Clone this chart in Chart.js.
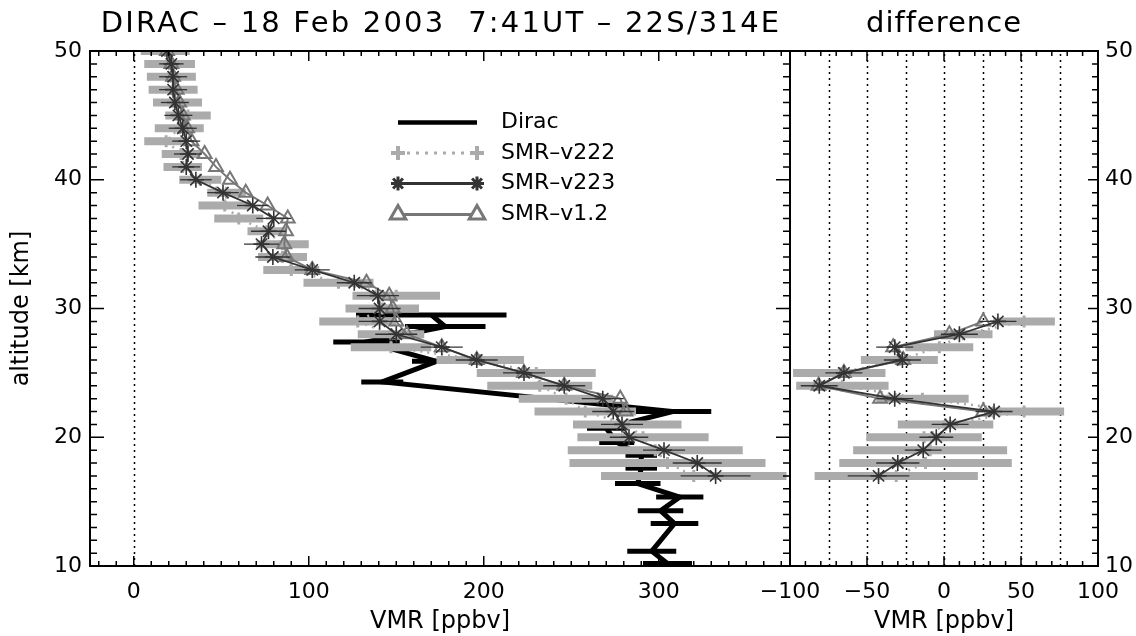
<!DOCTYPE html>
<html>
<head>
<meta charset="utf-8">
<script src="https://cdn.jsdelivr.net/npm/chart.js@4.4.1/dist/chart.umd.min.js"></script>
<style>
html, body { margin: 0; padding: 0; background: #fff; }
#wrap { position: relative; width: 1136px; height: 636px; overflow: hidden; }
canvas { position: absolute; top: 0; }
#profile { left: 0; }
#diff { left: 740px; }
</style>
</head>
<body>
<div id="wrap">
  <canvas id="profile" width="800" height="636"></canvas>
  <canvas id="diff" width="396" height="636"></canvas>
</div>
<script>
// altitude grid of the SMR retrievals [km]
const altSMR = [50, 49, 48, 47, 46, 45, 44, 43, 42, 41, 40, 39, 38, 37, 36, 35, 34, 33, 32, 31, 30, 29, 28, 27, 26, 25, 24, 23, 22, 21, 20, 19, 18, 17];
const v223 = [19, 21.5, 22.5, 22.5, 23.5, 25.5, 28, 30, 31, 30, 35.5, 51, 68, 80, 77, 73, 79.5, 102, 126, 139.5, 140.5, 140.5, 150, 176, 196, 223, 246, 268, 274, 279, 283, 303, 322, 332.5];
const v223Err = [8, 7, 8, 8, 8, 8, 8, 8, 8, 8, 9, 9, 9, 10, 10, 10, 10, 10, 10, 12, 12, 12, 12, 12, 12, 12, 12, 12, 12, 12, 11, 12, 14, 20];
const v222 = [18, 20.5, 21.5, 22.5, 25, 31, 26, 18.5, 27, 28, 38, 53, 52, 60, 76, 85, 85, 90, 117, 150, 142, 128, 147, 147, 198, 230, 232, 247, 258, 282, 291, 298, 305, 320];
const v222Err = [14, 14.5, 14, 14, 14, 13, 14, 12.5, 11, 11, 12, 11, 15, 14, 11, 15, 14, 16, 20, 25, 21, 22, 19, 23, 25, 34, 30, 27, 29, 31, 37.5, 50, 56, 53];
const altV12 = [50, 49, 48, 47, 46, 45, 44, 43, 42, 41, 40, 39, 38, 37, 36, 35, 34, 33, 32, 31, 30, 29, 28, 27, 26, 25, 24, 23, 22];
const v12 = [19, 21.5, 22.5, 24.5, 26, 28, 30.5, 33, 40.5, 47, 55, 64, 76.5, 88, 87, 86, 87.5, 102, 133, 146, 148, 150, 156, 176, 196, 223, 246, 278, 281];

// DIRAC balloon profile
const altDirac = [29.5, 28.6, 27.4, 25.9, 24.3, 22.0, 20.7, 19.6, 18.6, 17.6, 16.4, 15.35, 14.3, 13.3, 11.15, 10.2];
const dirac = [170, 178, 133, 173, 142, 308, 270, 276, 290, 290, 288, 312, 301, 309, 296, 305];
const diracErr = [43, 23, 19, 14, 12, 22, 11, 10, 9, 9, 13, 13.5, 13, 13.6, 14, 14];

// differences DIRAC - SMR
const altDiff = [29, 28, 27, 26, 25, 24, 23, 22, 21, 20, 19, 18, 17];
const d223 = [35, 10, -32, -27, -65, -81, -32, 32.5, 4, -5, -13.5, -30, -42.5];
const d223Err = [12, 12, 12, 12, 12, 12, 12, 12, 12, 11, 12, 14, 20];
const d222 = [52, 12.5, -3, -29, -68, -66, -14, 52, 1, -13, -9, -12, -31];
const d222Err = [20, 19, 22, 25, 30, 30, 30, 26, 31, 37.5, 50, 56, 53];
const altDiff12 = [29, 28, 27, 26, 25, 24, 23, 22];
const d12 = [25.5, 3.5, -33, -26.5, -65, -81.5, -41.5, 25.5];

// tick labels
const altTicks = [10, 20, 30, 40, 50];
const vmrTicks = [0, 100, 200, 300];
const diffTicks = [-100, -50, 0, 50, 100];
const diffGuides = [-75, -50, -25, 0, 25, 50, 75];

const FONT = "'DejaVu Sans', sans-serif";
const DARK = '#333333', MID = '#777777', LIGHT = '#ababab';

Chart.defaults.font.family = FONT;
Chart.defaults.font.size = 22;
Chart.defaults.color = '#000';
Chart.defaults.animation = false;

const pts = (xs, ys) => xs.map((v, i) => ({x: v, y: ys[i]}));
const minus = v => String(v).replace('-', '\u2212');

function smrSets(x223, y223, e223, x222, y222, e222, x12, y12) {
    return [
        {label: 'SMR-v223', data: pts(x223, y223), errors: e223, errColor: DARK, errWidth: 1.3,
         showLine: true, borderColor: DARK, borderWidth: 1.8,
         pointStyle: 'star', pointRadius: 8, pointBorderWidth: 1.6, pointBorderColor: DARK, pointBackgroundColor: DARK},
        {label: 'SMR-v1.2', data: pts(x12, y12),
         showLine: true, borderColor: MID, borderWidth: 2,
         pointStyle: 'triangle', pointRadius: 8, pointBorderWidth: 2, pointBorderColor: MID, pointBackgroundColor: 'rgba(0,0,0,0)'},
        {label: 'SMR-v222', data: pts(x222, y222), errors: e222, errColor: LIGHT, errWidth: 8,
         showLine: true, borderColor: LIGHT, borderWidth: 2.5, borderDash: [2, 5],
         pointStyle: 'cross', pointRadius: 6, pointBorderWidth: 3, pointBorderColor: LIGHT}
    ];
}

const errorBars = {
    id: 'errorBars',
    beforeDatasetDraw(chart, args) {
        const ds = chart.data.datasets[args.index];
        if (!ds.errors) return;
        const {ctx, chartArea: a, scales: {x, y}} = chart;
        ctx.save();
        ctx.beginPath();
        ctx.rect(a.left, a.top, a.right - a.left, a.bottom - a.top);
        ctx.clip();
        ctx.strokeStyle = ds.errColor;
        ctx.lineWidth = ds.errWidth;
        ds.data.forEach((p, i) => {
            const py = y.getPixelForValue(p.y);
            ctx.beginPath();
            ctx.moveTo(x.getPixelForValue(p.x - ds.errors[i]), py);
            ctx.lineTo(x.getPixelForValue(p.x + ds.errors[i]), py);
            ctx.stroke();
        });
        ctx.restore();
    }
};

// box, inward ticks, dotted guides and panel title
function frame(cfg) {
    return {
        id: 'frame',
        beforeDatasetsDraw(chart) {
            const {ctx, chartArea: a, scales: {x}} = chart;
            ctx.save();
            ctx.strokeStyle = '#000';
            ctx.lineWidth = 1.5;
            ctx.setLineDash([2, 4]);
            cfg.guides.forEach(v => {
                const px = Math.round(x.getPixelForValue(v)) + 0.5;
                ctx.beginPath();
                ctx.moveTo(px, a.bottom);
                ctx.lineTo(px, a.top);
                ctx.stroke();
            });
            ctx.restore();
        },
        afterDatasetsDraw(chart) {
            const {ctx, chartArea: a, scales: {x, y}} = chart;
            ctx.save();
            ctx.strokeStyle = '#000';
            ctx.lineWidth = 1.5;
            ctx.beginPath();
            for (let v = Math.ceil(x.min / 10) * 10; v <= x.max; v += 10) {
                const len = v % cfg.xMajor === 0 ? cfg.xLen[0] : cfg.xLen[1];
                const px = x.getPixelForValue(v);
                ctx.moveTo(px, a.bottom); ctx.lineTo(px, a.bottom - len);
                ctx.moveTo(px, a.top); ctx.lineTo(px, a.top + len);
            }
            for (let v = y.min; v <= y.max; v += 1) {
                const major = v % 10 === 0;
                const py = y.getPixelForValue(v);
                const l = major ? cfg.yLeft[0] : cfg.yLeft[1];
                const r = major ? cfg.yRight[0] : cfg.yRight[1];
                if (l) { ctx.moveTo(a.left, py); ctx.lineTo(a.left + l, py); }
                if (r) { ctx.moveTo(a.right, py); ctx.lineTo(a.right - r, py); }
            }
            ctx.stroke();
            ctx.lineWidth = 2;
            ctx.strokeRect(a.left, a.top, a.right - a.left, a.bottom - a.top);

            ctx.fillStyle = '#000';
            ctx.font = '29px ' + FONT;
            ctx.textAlign = 'center';
            ctx.textBaseline = 'middle';
            if ('letterSpacing' in ctx) ctx.letterSpacing = cfg.spacing;
            ctx.fillText(cfg.title, cfg.titleX || (a.left + a.right) / 2, 24);
            ctx.restore();
        }
    };
}

const legend = {
    id: 'legendBox',
    afterDraw(chart) {
        const ctx = chart.ctx;
        const x0 = 398, x1 = 477, tx = 501;
        const rows = [
            {text: 'Dirac', y: 122.5, color: '#000', width: 4.5, dash: []},
            {text: 'SMR\u2013v222', y: 153, color: LIGHT, width: 3, dash: [3, 6], mark: {pointStyle: 'cross', radius: 7, rotation: 0, borderWidth: 4}},
            {text: 'SMR\u2013v223', y: 183.5, color: DARK, width: 3, dash: [], mark: {pointStyle: 'star', radius: 7, rotation: 0, borderWidth: 3}},
            {text: 'SMR\u2013v1.2', y: 214.5, color: MID, width: 3, dash: [], mark: {pointStyle: 'triangle', radius: 9, rotation: 0, borderWidth: 3}}
        ];
        ctx.save();
        rows.forEach(r => {
            ctx.strokeStyle = r.color;
            ctx.lineWidth = r.width;
            ctx.setLineDash(r.dash);
            ctx.beginPath();
            ctx.moveTo(x0, r.y);
            ctx.lineTo(x1, r.y);
            ctx.stroke();
            ctx.setLineDash([]);
            if (r.mark) {
                ctx.lineWidth = r.mark.borderWidth;
                ctx.fillStyle = r.mark.pointStyle === 'triangle' ? '#fff' : r.color;
                Chart.helpers.drawPoint(ctx, r.mark, x0, r.y);
                Chart.helpers.drawPoint(ctx, r.mark, x1, r.y);
            }
            ctx.fillStyle = '#000';
            ctx.font = '22px ' + FONT;
            ctx.textAlign = 'left';
            ctx.textBaseline = 'middle';
            ctx.fillText(r.text, tx, r.y);
        });
        ctx.restore();
    }
};

function xAxis(ticks, min, max) {
    return {
        type: 'linear', min, max, position: 'bottom',
        grid: {display: false, drawTicks: false}, border: {display: false},
        ticks: {padding: 13, callback: minus},
        afterBuildTicks: s => { s.ticks = ticks.map(v => ({value: v})); },
        afterFit: s => { s.height = 70; s.paddingLeft = 0; s.paddingRight = 0; },
        title: {display: true, text: 'VMR [ppbv]', font: {size: 24}, padding: {top: 0, bottom: 0}}
    };
}

function yAxis(position, width, title) {
    return {
        type: 'linear', min: 10, max: 50, position,
        grid: {display: false, drawTicks: false}, border: {display: false},
        ticks: {padding: position === 'left' ? 8 : 7},
        afterBuildTicks: s => { s.ticks = altTicks.map(v => ({value: v})); },
        afterFit: s => { s.width = width; s.paddingTop = 0; s.paddingBottom = 0; },
        title: {display: !!title, text: title || '', font: {size: 24}, padding: {top: 7, bottom: 0}}
    };
}

new Chart(document.getElementById('profile'), {
    type: 'scatter',
    data: {
        datasets: [
            ...smrSets(v223, altSMR, v223Err, v222, altSMR, v222Err, v12, altV12),
            {label: 'Dirac', data: pts(dirac, altDirac), errors: diracErr, errColor: '#000', errWidth: 5,
             showLine: true, borderColor: '#000', borderWidth: 5, pointRadius: 0}
        ]
    },
    options: {
        responsive: false,
        layout: {padding: {top: 51, right: 10, left: 0, bottom: 0}},
        plugins: {legend: {display: false}, tooltip: {enabled: false}},
        scales: {x: xAxis(vmrTicks, -25, 375), y: yAxis('left', 90, 'altitude [km]')}
    },
    plugins: [errorBars, frame({
        guides: [0], xMajor: 100, xLen: [10, 5], yLeft: [14, 7], yRight: [14, 7],
        title: 'DIRAC \u2013 18 Feb 2003  7:41UT \u2013 22S/314E', titleX: 441, spacing: '2.2px'
    }), legend]
});

new Chart(document.getElementById('diff'), {
    type: 'scatter',
    data: {
        datasets: smrSets(d223, altDiff, d223Err, d222, altDiff, d222Err, d12, altDiff12)
    },
    options: {
        responsive: false,
        layout: {padding: {top: 51, right: 0, left: 50, bottom: 0}},
        plugins: {legend: {display: false}, tooltip: {enabled: false}},
        scales: {x: xAxis(diffTicks, -100, 100), y: yAxis('right', 38, null)}
    },
    plugins: [errorBars, frame({
        guides: diffGuides, xMajor: 50, xLen: [10, 5], yLeft: [0, 0], yRight: [10, 6],
        title: 'difference', spacing: '1px'
    })]
});
</script>
</body>
</html>
